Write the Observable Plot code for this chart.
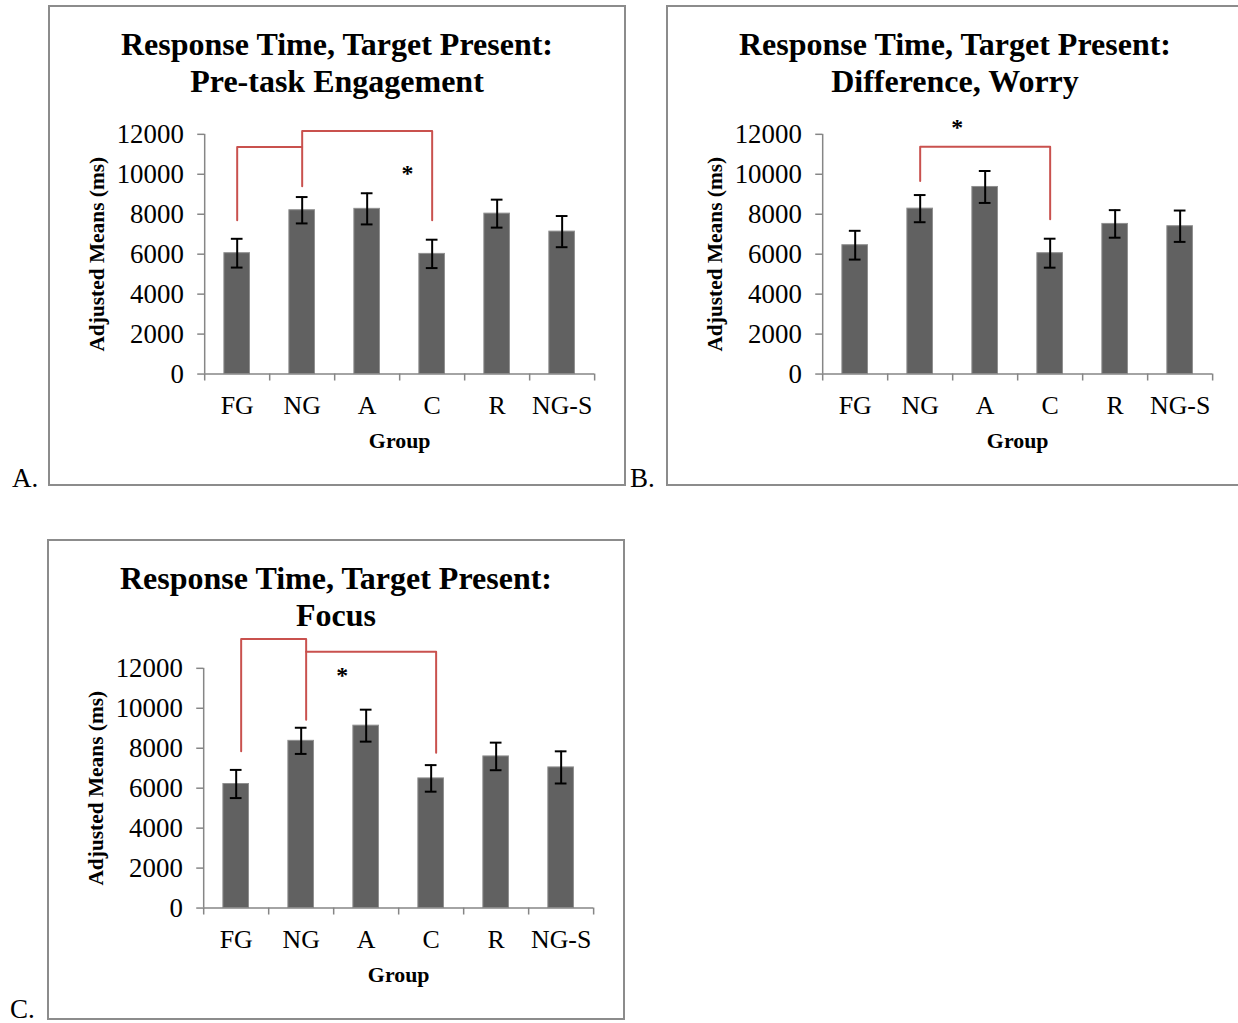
<!DOCTYPE html>
<html>
<head>
<meta charset="utf-8">
<script src="https://cdn.jsdelivr.net/npm/d3@7"></script>
<script src="https://cdn.jsdelivr.net/npm/@observablehq/plot@0.6"></script>
<style>
  html, body { margin: 0; padding: 0; background: #fff; }
  #page { position: relative; width: 1238px; height: 1023px; overflow: hidden; background: #fff;
          font-family: "Liberation Serif", "Times New Roman", serif; color: #000; }
  .panel { position: absolute; width: 574px; height: 477px; border: 2px solid #8c8c8c; box-sizing: content-box; }
  .title { position: absolute; left: 0; top: 19px; width: 100%; text-align: center; font-weight: bold;
           font-size: 32px; line-height: 37px; }
  .chart { position: absolute; left: -1px; top: 93px; }
  .plabel { position: absolute; font-size: 27px; line-height: 27px; }
</style>
</head>
<body>
<div id="page"></div>
<script>
// ---- data ----
const groups = ["FG", "NG", "A", "C", "R", "NG-S"];
const yTicks = [0, 2000, 4000, 6000, 8000, 10000, 12000];

const meansA = [6050, 8200, 8270, 6015, 8030, 7130];
const errsA  = [720, 660, 780, 710, 700, 780];
const meansB = [6450, 8280, 9365, 6050, 7515, 7400];
const errsB  = [720, 680, 800, 725, 690, 785];
const meansC = [6210, 8370, 9130, 6490, 7590, 7040];
const errsC  = [705, 655, 800, 665, 690, 805];

// significance brackets: [path id, group index (bar centre = idx+0.5), value]
const bracketA = [[1, 0.5, 7700], [1, 0.5, 11365], [1, 1.5, 11365],
                  [2, 1.5, 9400], [2, 1.5, 12165], [2, 3.5, 12165], [2, 3.5, 7700]];
const bracketB = [[1, 1.5, 9665], [1, 1.5, 11380], [1, 3.5, 11380], [1, 3.5, 7750]];
const bracketC = [[1, 0.5, 7850], [1, 0.5, 13470], [1, 1.5, 13470], [1, 1.5, 9430],
                  [2, 1.5, 12830], [2, 3.5, 12830], [2, 3.5, 7770]];
const starA = [3.12, 10080];
const starB = [2.07, 12415];
const starC = [2.13, 11700];

const titlesA = ["Response Time, Target Present:", "Pre-task Engagement"];
const titlesB = ["Response Time, Target Present:", "Difference, Worry"];
const titlesC = ["Response Time, Target Present:", "Focus"];

const panels = [
  {label: "A.", left: 48, top: 5, labelPos: [12, 465], titles: titlesA, means: meansA, errs: errsA, bracket: bracketA, star: starA, bdx: 0},
  {label: "B.", left: 666, top: 5, labelPos: [630, 465], titles: titlesB, means: meansB, errs: errsB, bracket: bracketB, star: starB, bdx: 0},
  {label: "C.", left: 47, top: 539, labelPos: [10, 996], titles: titlesC, means: meansC, errs: errsC, bracket: bracketC, star: starC, bdx: 5}
];

const page = document.getElementById("page");
const FONT = "'Liberation Serif', 'Times New Roman', serif";
const AXIS = "#868686";
const CAP = 0.09;

for (const p of panels) {
  const lab = document.createElement("div");
  lab.className = "plabel";
  lab.style.left = p.labelPos[0] + "px";
  lab.style.top = p.labelPos[1] + "px";
  lab.textContent = p.label;
  page.appendChild(lab);

  const box = document.createElement("div");
  box.className = "panel";
  box.style.left = p.left + "px";
  box.style.top = p.top + "px";
  const t = document.createElement("div");
  t.className = "title";
  t.innerHTML = p.titles.map(s => `<div>${s}</div>`).join("");
  box.appendChild(t);

  const table = groups.map((g, i) => ({group: g, i, mean: p.means[i], lo: p.means[i] - p.errs[i], hi: p.means[i] + p.errs[i]}));
  const br = p.bracket.map(([id, x, y]) => ({id, x, y}));

  const chart = Plot.plot({
    width: 577, height: 385,
    marginLeft: 156, marginRight: 29, marginTop: 34, marginBottom: 110,
    style: {fontFamily: FONT, background: "transparent", color: "#000", overflow: "visible"},
    x: {domain: [0, groups.length], axis: null},
    y: {domain: [0, 12000], axis: null},
    marks: [
      Plot.rectY(table, {x1: d => d.i, x2: d => d.i + 1, y: "mean", insetLeft: 19.8, insetRight: 19.8,
                         fill: "#616161", stroke: "#8f8f8f", strokeWidth: 1}),
      Plot.ruleX([0], {y1: 0, y2: 12000, stroke: AXIS, strokeWidth: 1.5}),
      Plot.ruleY([0], {stroke: AXIS, strokeWidth: 1.5}),
      Plot.axisY({ticks: yTicks, tickFormat: "d", tickSize: 7, tickPadding: 14, fontSize: 27, stroke: AXIS, strokeWidth: 1.5, label: null}),
      Plot.axisX({ticks: d3.range(0, groups.length + 1), tickSize: 7, tickFormat: () => "", stroke: AXIS, strokeWidth: 1.5, label: null}),
      Plot.axisX({ticks: groups.map((g, i) => i + 0.5), tickSize: 0, tickPadding: 22, fontSize: 26, label: null,
                  tickFormat: v => groups[Math.round(v - 0.5)]}),
      Plot.ruleX(table, {x: d => d.i + 0.5, y1: "lo", y2: "hi", stroke: "#000", strokeWidth: 2}),
      Plot.ruleY(table, {y: "hi", x1: d => d.i + 0.5 - CAP, x2: d => d.i + 0.5 + CAP, stroke: "#000", strokeWidth: 2}),
      Plot.ruleY(table, {y: "lo", x1: d => d.i + 0.5 - CAP, x2: d => d.i + 0.5 + CAP, stroke: "#000", strokeWidth: 2}),
      Plot.line(br, {x: "x", y: "y", z: "id", stroke: "#c9514e", strokeWidth: 2, dx: p.bdx, curve: "linear"}),
      Plot.text([p.star], {x: d => d[0], y: d => d[1], text: () => "*", fontSize: 24, fontWeight: "bold", dy: 1}),
      Plot.text(["Adjusted Means (ms)"], {frameAnchor: "left", textAnchor: "middle", lineAnchor: "middle", rotate: -90, dx: -108, fontSize: 21.5, fontWeight: "bold"}),
      Plot.text(["Group"], {frameAnchor: "bottom", textAnchor: "middle", lineAnchor: "middle", dy: 67, fontSize: 22, fontWeight: "bold"})
    ]
  });
  chart.classList.add("chart");
  box.appendChild(chart);
  page.appendChild(box);
}
</script>
</body>
</html>
